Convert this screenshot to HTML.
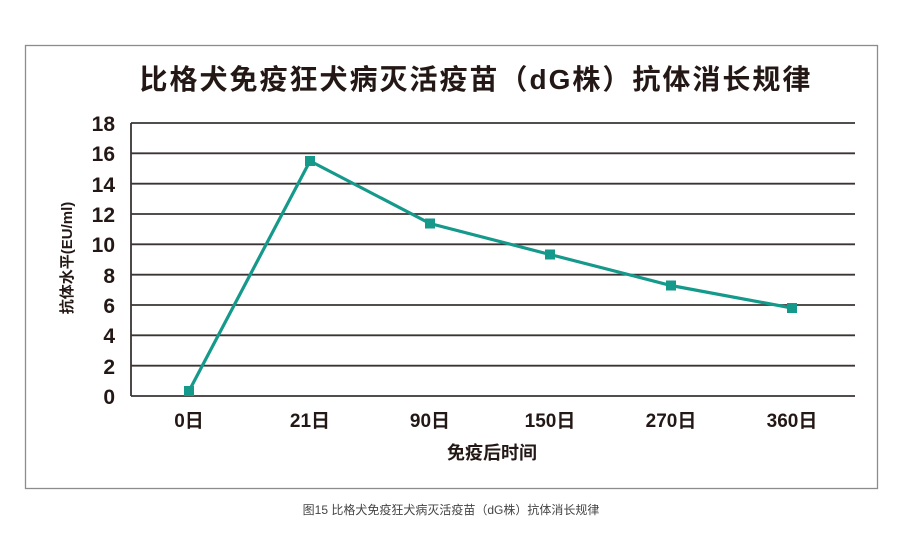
<!DOCTYPE html>
<html><head><meta charset="utf-8"><style>
body{margin:0;background:#fff;}
svg text{font-family:"Liberation Sans","Noto Sans CJK SC",sans-serif;fill:#231815;}
</style></head><body>
<svg width="900" height="535" viewBox="0 0 900 535" xmlns="http://www.w3.org/2000/svg">
<rect x="25.5" y="45.5" width="852" height="443" fill="#fff" stroke="#8c8c8c" stroke-width="1.3"/>
<text x="476" y="89" font-size="28" font-weight="bold" text-anchor="middle" letter-spacing="2">比格犬免疫狂犬病灭活疫苗（dG株）抗体消长规律</text>
<g stroke="#3a3435" stroke-width="1.8">
<line x1="131" y1="123" x2="855" y2="123"/>
<line x1="131" y1="153.3" x2="855" y2="153.3"/>
<line x1="131" y1="183.7" x2="855" y2="183.7"/>
<line x1="131" y1="214" x2="855" y2="214"/>
<line x1="131" y1="244.3" x2="855" y2="244.3"/>
<line x1="131" y1="274.7" x2="855" y2="274.7"/>
<line x1="131" y1="305" x2="855" y2="305"/>
<line x1="131" y1="335.3" x2="855" y2="335.3"/>
<line x1="131" y1="365.7" x2="855" y2="365.7"/>
<line x1="131" y1="396" x2="855" y2="396"/>
<line x1="131" y1="123" x2="131" y2="396"/>
</g>
<g font-size="21" font-weight="bold" text-anchor="end">
<text x="115" y="131">18</text>
<text x="115" y="161">16</text>
<text x="115" y="192">14</text>
<text x="115" y="222">12</text>
<text x="115" y="252">10</text>
<text x="115" y="283">8</text>
<text x="115" y="313">6</text>
<text x="115" y="343">4</text>
<text x="115" y="374">2</text>
<text x="115" y="404">0</text>
</g>
<g font-size="19" font-weight="bold" text-anchor="middle">
<text x="189" y="427">0日</text>
<text x="310" y="427">21日</text>
<text x="430" y="427">90日</text>
<text x="550" y="427">150日</text>
<text x="671" y="427">270日</text>
<text x="792" y="427">360日</text>
</g>
<text x="492" y="459" font-size="18" font-weight="bold" text-anchor="middle">免疫后时间</text>
<text transform="translate(72,258) rotate(-90)" font-size="15" font-weight="bold" text-anchor="middle">抗体水平(EU/ml)</text>
<polyline fill="none" stroke="#14998b" stroke-width="3.2" points="189,391 310,161 430,223.5 550,254.5 671,285.5 792,308"/>
<g fill="#14998b">
<rect x="184" y="386" width="10" height="10"/>
<rect x="305" y="156" width="10" height="10"/>
<rect x="425" y="218.5" width="10" height="10"/>
<rect x="545" y="249.5" width="10" height="10"/>
<rect x="666" y="280.5" width="10" height="10"/>
<rect x="787" y="303" width="10" height="10"/>
</g>
<text x="451" y="514" font-size="12" text-anchor="middle" style="fill:#444">图15 比格犬免疫狂犬病灭活疫苗（dG株）抗体消长规律</text>
</svg>
</body></html>
